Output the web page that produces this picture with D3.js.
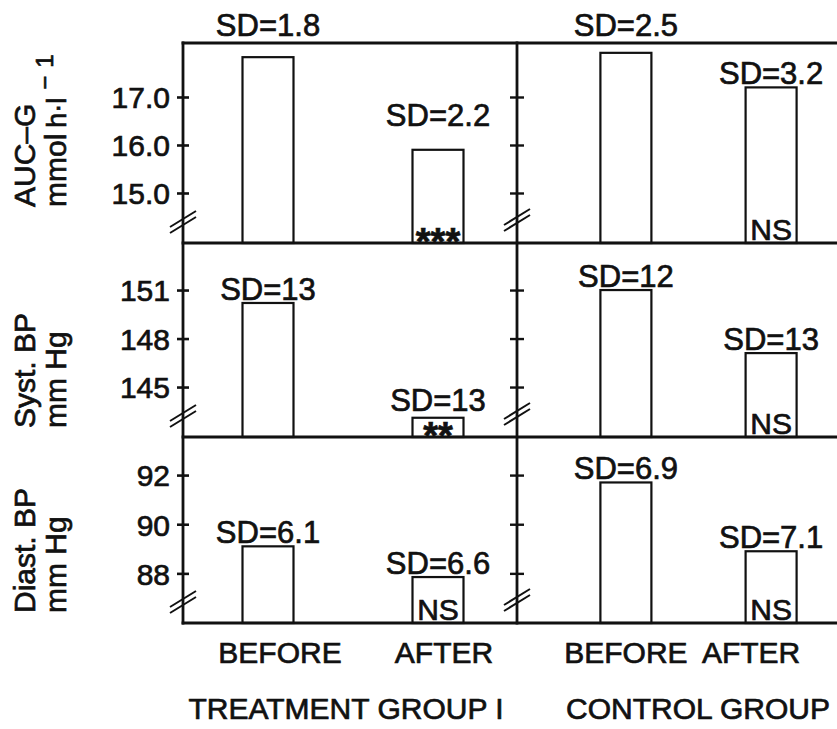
<!DOCTYPE html>
<html><head><meta charset="utf-8">
<script src="https://cdn.jsdelivr.net/npm/d3@7"></script>
<style>
html,body{margin:0;padding:0;background:#fff;}
svg{display:block;}
text{font-family:"Liberation Sans",Arial,Helvetica,sans-serif;fill:#111;stroke:#111;stroke-width:0.7px;}
</style></head><body>
<svg id="chart" width="837" height="729"></svg>
<script>
// ---------------- data ----------------
const groups = ["TREATMENT GROUP I", "CONTROL GROUP"];
const phases = ["BEFORE", "AFTER"];
// bar order: treatment before, treatment after, control before, control after
const aucValues   = [17.83, 15.9, 17.92, 17.2];
const systValues  = [150.2, 143.1, 151.0, 147.1];
const diastValues = [89.1, 87.85, 91.7, 88.9];
const aucSD   = ["SD=1.8", "SD=2.2", "SD=2.5", "SD=3.2"];
const systSD  = ["SD=13", "SD=13", "SD=12", "SD=13"];
const diastSD = ["SD=6.1", "SD=6.6", "SD=6.9", "SD=7.1"];
const aucSig   = ["", "***", "", "NS"];
const systSig  = ["", "**", "", "NS"];
const diastSig = ["", "NS", "", "NS"];
const aucTicks   = [15.0, 16.0, 17.0];
const systTicks  = [145, 148, 151];
const diastTicks = [88, 90, 92];
const aucTickFormat = ".1f";
const bpTickFormat = "d";
const aucTitle   = ["AUC–G", "mmol", "h·l", "−1"];
const systTitle  = ["Syst. BP", "mm Hg"];
const diastTitle = ["Diast. BP", "mm Hg"];

// ---------------- layout ----------------
const W = 837, H = 729;
const axisX = 183, dividerX = 517, rightX = 837;
const frameTop = 43;
const panels = [
  {top: 43,  bottom: 243, domain: [13.958, 18.125], values: aucValues,   sd: aucSD,   sig: aucSig,   ticks: aucTicks,   fmt: aucTickFormat, title: aucTitle,   titleY: 207, sdLift: [0, 21, 0, 0]},
  {top: 243, bottom: 437, domain: [141.91, 153.91], values: systValues,  sd: systSD,  sig: systSig,  ticks: systTicks,  fmt: bpTickFormat,  title: systTitle,  titleY: 428, sdLift: [0, 4, 0, 0]},
  {top: 437, bottom: 623, domain: [85.98, 93.55],   values: diastValues, sd: diastSD, sig: diastSig, ticks: diastTicks, fmt: bpTickFormat,  title: diastTitle, titleY: 613, sdLift: [0, 0, 0, 0]}
];
const barW = 51;
const FONT = 30;
const xScales = [
  d3.scalePoint().domain(phases).range([183, 523]).padding(0.5),
  d3.scalePoint().domain(phases).range([517, 880]).padding(0.75)
];
const barX = i => xScales[Math.floor(i / 2)](phases[i % 2]);
const catLabelDx = [12, 6, 0, -20];
const groupLabelX = [346, 698];

const svg = d3.select("#chart");
svg.append("rect").attr("width", W).attr("height", H).attr("fill", "#fff");

panels.forEach((p, pi) => {
  const y = d3.scaleLinear().domain(p.domain).range([p.bottom, p.top]);
  const g = svg.append("g");

  // bars
  g.selectAll("rect.bar").data(p.values).join("rect")
    .attr("class", "bar")
    .attr("x", (d, i) => barX(i) - barW / 2)
    .attr("y", d => y(d))
    .attr("width", barW)
    .attr("height", d => p.bottom - y(d))
    .attr("fill", "#fff").attr("stroke", "#111").attr("stroke-width", 2.2);

  // SD labels
  g.selectAll("text.sd").data(p.sd).join("text")
    .attr("class", "sd")
    .attr("x", (d, i) => barX(i))
    .attr("y", (d, i) => {
      let yy = y(p.values[i]) - 3 - p.sdLift[i];
      if (yy - 22 < p.top) yy = p.top - 7;
      return yy;
    })
    .attr("text-anchor", "middle").attr("font-size", 31)
    .text(d => d);

  // significance labels
  g.selectAll("text.sig").data(p.sig).join("text")
    .attr("class", "sig")
    .attr("x", (d, i) => barX(i))
    .attr("y", d => d.startsWith("*") ? p.bottom + 12 : p.bottom - 3)
    .attr("text-anchor", "middle")
    .attr("font-weight", d => d.startsWith("*") ? "bold" : null)
    .attr("font-size", d => d.startsWith("*") ? 38 : FONT)
    .text(d => d);

  // left axis with crossing ticks
  const axL = g.append("g").attr("transform", `translate(${axisX},0)`)
    .call(d3.axisLeft(y).tickValues(p.ticks).tickFormat(d3.format(p.fmt)).tickSize(6).tickPadding(7));
  axL.select(".domain").remove();
  axL.selectAll("line").attr("stroke", "#111").attr("stroke-width", 2.6);
  axL.selectAll("text").attr("font-size", FONT).attr("font-family", null).attr("fill", "#111").attr("dy", "0.36em");
  const axL2 = g.append("g").attr("transform", `translate(${axisX},0)`)
    .call(d3.axisRight(y).tickValues(p.ticks).tickFormat("").tickSize(6));
  axL2.select(".domain").remove();
  axL2.selectAll("line").attr("stroke", "#111").attr("stroke-width", 2.6);

  // divider ticks (no labels)
  [d3.axisLeft, d3.axisRight].forEach(ax => {
    const a = g.append("g").attr("transform", `translate(${dividerX},0)`)
      .call(ax(y).tickValues(p.ticks).tickFormat("").tickSize(7));
    a.select(".domain").remove();
    a.selectAll("line").attr("stroke", "#111").attr("stroke-width", 2.4);
  });

  // axis break marks
  [[axisX, p.bottom - 21], [dividerX, p.bottom - 23]].forEach(([cx, cy]) => {
    [-3, 3].forEach(o => {
      g.append("line")
        .attr("x1", cx - 13).attr("y1", cy + 8 + o)
        .attr("x2", cx + 13).attr("y2", cy - 8 + o)
        .attr("stroke", "#111").attr("stroke-width", 2);
    });
  });

  // rotated title
  const t = g.append("g").attr("transform", `translate(0,${p.titleY}) rotate(-90)`);
  t.append("text").attr("x", 0).attr("y", 35).attr("font-size", FONT).text(p.title[0]);
  const t2 = t.append("text").attr("x", 0).attr("y", 66).attr("font-size", FONT);
  t2.append("tspan").text(p.title[1]);
  if (p.title.length > 2) {
    t2.append("tspan").attr("font-size", 27).attr("dx", 6).text(p.title[2]);
    t2.append("tspan").attr("font-size", 24).attr("dx", 8).attr("dy", -13).attr("letter-spacing", 8).text(p.title[3]);
  }
});

// frame
const frame = [
  [axisX, frameTop, axisX, 623],
  [dividerX, frameTop, dividerX, 623],
  [axisX, frameTop, rightX, frameTop],
  [axisX, 243, rightX, 243],
  [axisX, 437, rightX, 437],
  [axisX, 623, rightX, 623]
];
svg.selectAll("line.frame").data(frame).join("line")
  .attr("class", "frame")
  .attr("x1", d => d[0]).attr("y1", d => d[1]).attr("x2", d => d[2]).attr("y2", d => d[3])
  .attr("stroke", "#111").attr("stroke-width", 2.8).attr("stroke-linecap", "square");

// category labels
svg.selectAll("text.cat").data([0, 1, 2, 3]).join("text")
  .attr("class", "cat")
  .attr("x", i => barX(i) + catLabelDx[i])
  .attr("y", 663)
  .attr("text-anchor", "middle").attr("font-size", FONT)
  .text(i => phases[i % 2]);

// group labels
svg.selectAll("text.grp").data(groups).join("text")
  .attr("class", "grp")
  .attr("x", (d, i) => groupLabelX[i])
  .attr("y", 719)
  .attr("text-anchor", "middle").attr("font-size", FONT)
  .text(d => d);
</script>
</body></html>
